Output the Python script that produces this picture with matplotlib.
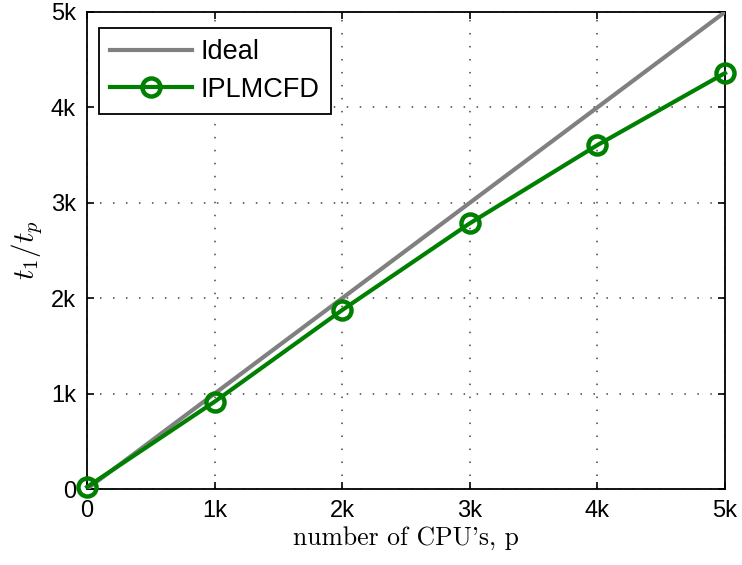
import matplotlib
matplotlib.use("Agg")
import matplotlib.pyplot as plt

plt.rcParams["mathtext.fontset"] = "cm"
plt.rcParams["font.family"] = ["Liberation Sans", "DejaVu Sans"]

cpus = [1, 1000, 2000, 3000, 4000, 5000]
ideal = [1, 1000, 2000, 3000, 4000, 5000]
iplmcfd = [22, 915, 1876, 2785, 3605, 4360]

ticks = [0, 1000, 2000, 3000, 4000, 5000]
tick_labels = ["0", "1k", "2k", "3k", "4k", "5k"]


def main() -> None:
    fig = plt.figure(figsize=(7.42, 5.65), dpi=100)
    ax = fig.add_axes([87 / 742, 1 - 489 / 565, 638 / 742, 477 / 565])

    ax.plot(cpus, ideal, color="#808080", lw=3, label="Ideal", zorder=3)
    ax.plot(cpus, iplmcfd, color="#008000", lw=3, marker="o",
            markersize=13, markerfacecolor="none", markeredgewidth=3.2,
            label="IPLMCFD", zorder=4, clip_on=False)

    ax.set_xlim(0, 5000)
    ax.set_ylim(0, 5000)
    ax.set_xticks(ticks)
    ax.set_yticks(ticks)
    ax.set_xticklabels(tick_labels)
    ax.set_yticklabels(tick_labels)
    ax.tick_params(direction="in", length=5, width=1.2, labelsize=17,
                   top=True, right=True, pad=8)
    for s in ax.spines.values():
        s.set_linewidth(1.3)

    ax.grid(True, linestyle=(0, (1, 7.5)), color="#444444", linewidth=1.1)

    ax.set_xlabel("number of CPU's, p", family="cmr10", fontsize=18.5,
                  labelpad=3)
    ax.set_ylabel("$t_1/t_p$", fontsize=21, labelpad=4)

    leg = ax.legend(loc="upper left", fontsize=19.5, fancybox=False,
                    framealpha=1, edgecolor="black", borderpad=0.42,
                    handlelength=3.0, handletextpad=0.32, labelspacing=0.42,
                    borderaxespad=0, bbox_to_anchor=(12 / 638, 1 - 16 / 477))
    leg.get_frame().set_linewidth(1.3)

    fig.savefig("out.png", dpi=100)
    plt.close(fig)


if __name__ == "__main__":
    main()
